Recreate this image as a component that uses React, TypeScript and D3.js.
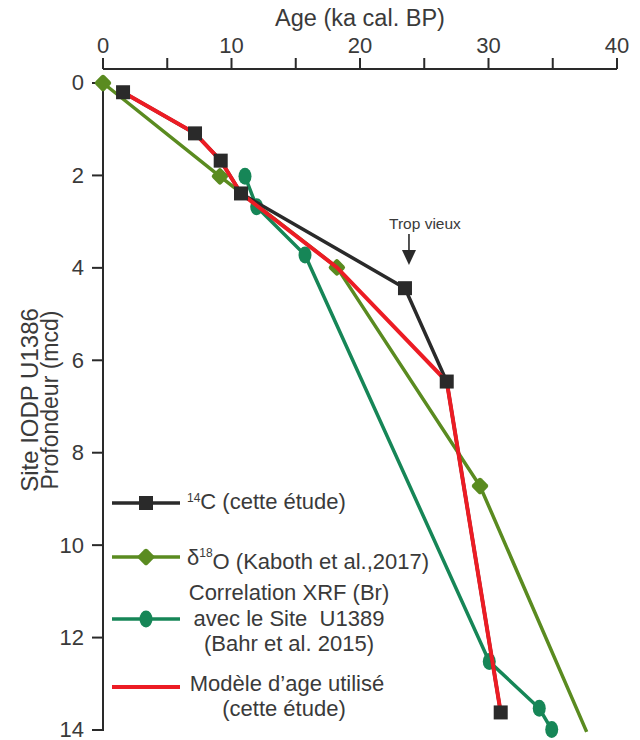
import React from 'react'
import * as d3 from 'd3'

// 14C dates (this study)
const c14Age = [1.56, 7.16, 9.16, 10.74, 23.5, 26.75, 30.95]
const c14Depth = [0.2, 1.09, 1.68, 2.39, 4.44, 6.46, 13.62]

// d18O tie points (Kaboth et al., 2017); last point is the trend end, no marker
const d18oAge = [0, 9.1, 18.2, 29.34, 37.64]
const d18oDepth = [0, 2.02, 3.99, 8.72, 14.04]
const d18oMarker = [true, true, true, true, false]

// XRF (Br) correlation with Site U1389 (Bahr et al. 2015)
const xrfAge = [11.05, 11.96, 15.72, 30.06, 33.95, 34.92]
const xrfDepth = [2.02, 2.68, 3.72, 12.52, 13.53, 13.99]

// age model used
const modelAge = [1.56, 7.16, 9.16, 10.74, 18.2, 26.75, 30.95]
const modelDepth = [0.2, 1.09, 1.68, 2.39, 3.99, 6.46, 13.62]

const ageTicks = [0, 5, 10, 15, 20, 25, 30, 35, 40]
const ageLabels = [0, 10, 20, 30, 40]
const depthTicks = [0, 2, 4, 6, 8, 10, 12, 14]

const BLACK = '#2a2a2a'
const RED = '#ec1c24'
const OLIVE = '#5a8b20'
const TEAL = '#168657'
const TEXT = '#3a3a3a'
const FONT = '"Liberation Sans", Arial, sans-serif'

export default function App() {
  const x = d3.scaleLinear().domain([0, 40]).range([103, 617])
  const y = d3.scaleLinear().domain([0, 14]).range([83, 730])
  const axisY = 69

  const line = d3.line<[number, number]>().x(d => x(d[0])).y(d => y(d[1]))
  const zip = (a: number[], b: number[]) => a.map((v, i) => [v, b[i]] as [number, number])

  const diamond = (cx: number, cy: number, key: string) => (
    <rect key={key} x={cx - 6.5} y={cy - 6.5} width={13} height={13} rx={2.5}
      fill={OLIVE} transform={`rotate(45 ${cx} ${cy})`} />
  )
  const dot = (cx: number, cy: number, key: string) => (
    <ellipse key={key} cx={cx} cy={cy} rx={6.5} ry={8.5} fill={TEAL} />
  )
  const square = (cx: number, cy: number, key: string) => (
    <rect key={key} x={cx - 7} y={cy - 7} width={14} height={14} fill={BLACK} />
  )

  const legX0 = 112
  const legX1 = 180
  const legMid = 146

  return (
    <svg width={640} height={740} style={{ position: 'absolute', left: 0, top: 0 }}
      fontFamily={FONT}>
      <rect width={640} height={740} fill="#fff" />

      {/* top axis */}
      <text x={(x(0) + x(40)) / 2} y={26} textAnchor="middle" fontSize={23.5} fill={TEXT}>
        Age (ka cal. BP)
      </text>
      <line x1={x(0)} x2={x(40)} y1={axisY} y2={axisY} stroke={BLACK} strokeWidth={2} />
      {ageTicks.map(t => (
        <line key={t} x1={x(t)} x2={x(t)} y1={axisY} y2={axisY - 11} stroke={BLACK} strokeWidth={2} />
      ))}
      {ageLabels.map(t => (
        <text key={t} x={x(t)} y={53} textAnchor="middle" fontSize={22} fill={TEXT}>{t}</text>
      ))}

      {/* left axis */}
      <line x1={x(0)} x2={x(0)} y1={y(0)} y2={y(14) + 1} stroke={BLACK} strokeWidth={2} />
      {depthTicks.map(t => (
        <g key={t}>
          <line x1={x(0) - 11} x2={x(0)} y1={y(t)} y2={y(t)} stroke={BLACK} strokeWidth={2} />
          <text x={84} y={y(t)} dy="0.34em" textAnchor="end" fontSize={22} fill={TEXT}>{t}</text>
        </g>
      ))}
      <text transform="translate(29,400) rotate(-90)" textAnchor="middle" dy="0.36em" fontSize={24} fill={TEXT}>
        Site IODP U1386
      </text>
      <text transform="translate(50,400) rotate(-90)" textAnchor="middle" dy="0.36em" fontSize={23} fill={TEXT}>
        Profondeur (mcd)
      </text>

      {/* series */}
      <path d={line(zip(d18oAge, d18oDepth)) || ''} fill="none" stroke={OLIVE} strokeWidth={3.5} />
      {d18oAge.map((a, i) => d18oMarker[i] ? diamond(x(a), y(d18oDepth[i]), 'd' + i) : null)}

      <path d={line(zip(xrfAge, xrfDepth)) || ''} fill="none" stroke={TEAL} strokeWidth={3.5} />
      {xrfAge.map((a, i) => dot(x(a), y(xrfDepth[i]), 'x' + i))}

      <path d={line(zip(c14Age, c14Depth)) || ''} fill="none" stroke={BLACK} strokeWidth={3.5} />
      <path d={line(zip(modelAge, modelDepth)) || ''} fill="none" stroke={RED} strokeWidth={4} />
      {c14Age.map((a, i) => square(x(a), y(c14Depth[i]), 'c' + i))}

      {/* annotation */}
      <text x={x(23.5) + 20} y={229} textAnchor="middle" fontSize={15.5} fill={TEXT}>Trop vieux</text>
      <line x1={x(23.5) + 4} x2={x(23.5) + 4} y1={234} y2={252} stroke={BLACK} strokeWidth={1.6} />
      <path d={`M${x(23.5) + 4 - 7},250 L${x(23.5) + 4 + 7},250 L${x(23.5) + 4},265 Z`} fill={BLACK} />

      {/* legend */}
      <line x1={legX0} x2={legX1} y1={503} y2={503} stroke={BLACK} strokeWidth={3.5} />
      {square(legMid, 503, 'l1')}
      <text x={187} y={507} dy="0.36em" fontSize={22} fill={TEXT}>
        <tspan fontSize={12} dy="-0.4em">14</tspan><tspan dy="0.3em">C (cette étude)</tspan>
      </text>

      <line x1={legX0} x2={legX1} y1={557} y2={557} stroke={OLIVE} strokeWidth={3.5} />
      {diamond(legMid, 557, 'l2')}
      <text x={187} y={557} dy="0.36em" fontSize={22} fill={TEXT}>
        δ<tspan fontSize={12} dy="-0.7em">18</tspan><tspan dy="0.55em">O (Kaboth et al.,2017)</tspan>
      </text>

      <line x1={legX0} x2={legX1} y1={619} y2={619} stroke={TEAL} strokeWidth={3.5} />
      {dot(legMid, 619, 'l3')}
      <text x={289} y={592} dy="0.36em" textAnchor="middle" fontSize={22} fill={TEXT}>Correlation XRF (Br)</text>
      <text x={289} y={618} dy="0.36em" textAnchor="middle" fontSize={22} fill={TEXT} xmlSpace="preserve">avec le Site  U1389</text>
      <text x={289} y={643} dy="0.36em" textAnchor="middle" fontSize={22} fill={TEXT}>(Bahr et al. 2015)</text>

      <line x1={legX0} x2={legX1} y1={687} y2={687} stroke={RED} strokeWidth={4} />
      <text x={287} y={683} dy="0.36em" textAnchor="middle" fontSize={22} fill={TEXT}>Modèle d’age utilisé</text>
      <text x={284} y={708} dy="0.36em" textAnchor="middle" fontSize={22} fill={TEXT}>(cette étude)</text>
    </svg>
  )
}
